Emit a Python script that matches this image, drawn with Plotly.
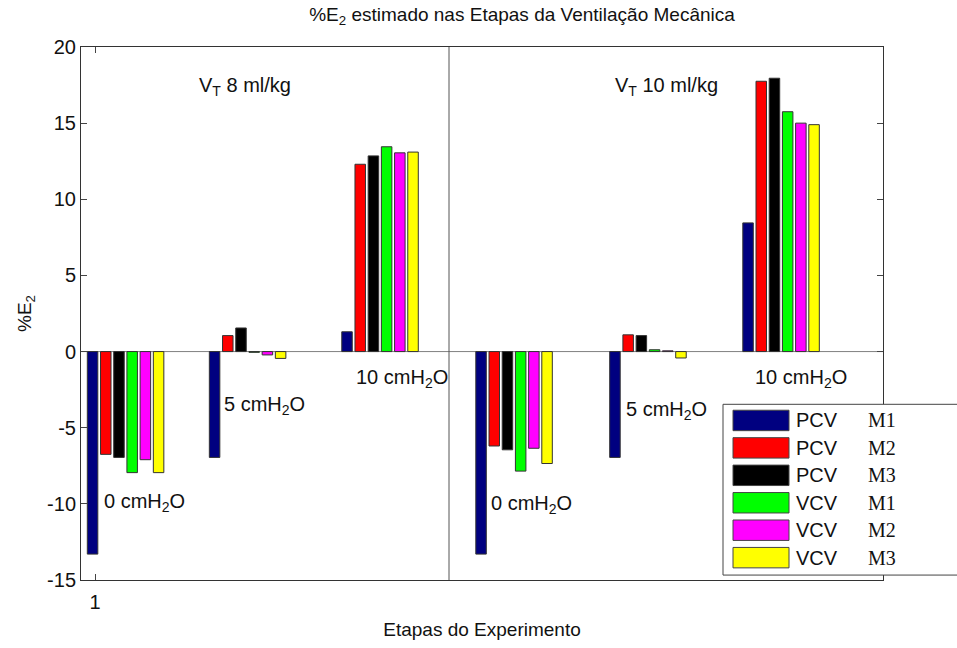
import plotly.graph_objects as go

# ---------------- data ----------------
stages = ["0 cmH<sub>2</sub>O", "5 cmH<sub>2</sub>O", "10 cmH<sub>2</sub>O",
          "0 cmH<sub>2</sub>O", "5 cmH<sub>2</sub>O", "10 cmH<sub>2</sub>O"]
series_modes = ["PCV", "PCV", "PCV", "VCV", "VCV", "VCV"]
series_methods = ["M1", "M2", "M3", "M1", "M2", "M3"]

pcv_m1 = [-13.3, -6.95, 1.3, -13.3, -6.95, 8.45]
pcv_m2 = [-6.75, 1.05, 12.3, -6.2, 1.1, 17.75]
pcv_m3 = [-6.95, 1.55, 12.85, -6.45, 1.05, 17.95]
vcv_m1 = [-7.95, -0.05, 13.45, -7.85, 0.12, 15.75]
vcv_m2 = [-7.1, -0.22, 13.05, -6.35, 0.05, 15.0]
vcv_m3 = [-7.95, -0.45, 13.1, -7.35, -0.42, 14.9]
series_values = [pcv_m1, pcv_m2, pcv_m3, vcv_m1, vcv_m2, vcv_m3]

vt_labels = ["V<sub>T</sub> 8 ml/kg", "V<sub>T</sub> 10 ml/kg"]
x_ticks = [1]
x_ticklabels = ["1"]
y_ticks = [-15, -10, -5, 0, 5, 10, 15, 20]
y_ticklabels = ["-15", "-10", "-5", "0", "5", "10", "15", "20"]

# ---------------- layout / style ----------------
colors = ["#000080", "#FF0000", "#000000", "#00FF00", "#FF00FF", "#FFFF00"]
group_centers = [1.229, 2.143, 3.135, 4.139, 5.142, 6.139]
bar_pitch = 0.0989
bar_width = 0.0787
divider_x = 3.6517
stage_label_pos = [(1.050, -9.9), (1.949, -3.55), (2.940, -1.75),
                   (3.954, -10.05), (4.963, -3.9), (5.929, -1.75)]
vt_label_pos = [(1.762, 17.43), (4.877, 17.43)]

SANS = "Liberation Sans, Arial, sans-serif"
SERIF = "Liberation Serif, Times New Roman, serif"
TXT = "#111111"

fig = go.Figure()
for k, vals in enumerate(series_values):
    off = (k - 2.5) * bar_pitch
    fig.add_trace(go.Bar(
        x=[c + off for c in group_centers], y=vals, width=bar_width,
        marker=dict(color=colors[k], line=dict(color="#333333", width=1)),
        name=f"{series_modes[k]} {series_methods[k]}", showlegend=False,
    ))

annotations = []
for (ax, ay), txt in zip(stage_label_pos, stages):
    annotations.append(dict(x=ax, y=ay, xref="x", yref="y", text=txt,
                            showarrow=False, xanchor="left", yanchor="middle",
                            font=dict(family=SANS, size=20, color=TXT)))
for (ax, ay), txt in zip(vt_label_pos, vt_labels):
    annotations.append(dict(x=ax, y=ay, xref="x", yref="y", text=txt,
                            showarrow=False, xanchor="left", yanchor="middle",
                            font=dict(family=SANS, size=20, color=TXT)))

shapes = [
    dict(type="line", xref="paper", yref="y", x0=0, x1=1, y0=0, y1=0,
         line=dict(color="#808080", width=1), layer="below"),
    dict(type="line", xref="x", yref="paper", x0=divider_x, x1=divider_x, y0=0, y1=1,
         line=dict(color="#555555", width=1)),
]

# manual legend (paper coordinates, plot area 81..883 x 47..587 px)
PL, PW, PT, PH = 81, 802, 47, 540
def px(p):
    return (p - PL) / PW
def py(p):
    return (PT + PH - p) / PH

shapes.append(dict(type="rect", xref="paper", yref="paper",
                   x0=px(723), x1=px(962), y0=py(582), y1=py(409),
                   fillcolor="white", line=dict(color="#444444", width=1), layer="above"))
for i in range(6):
    top = 415 + 27.8 * i
    shapes.append(dict(type="rect", xref="paper", yref="paper",
                       x0=px(733), x1=px(789), y0=py(top + 20.7), y1=py(top),
                       fillcolor=colors[i], line=dict(color="#444444", width=1), layer="above"))
    yc = py(top + 10.3)
    annotations.append(dict(x=px(794), y=yc, xref="paper", yref="paper",
                            text=series_modes[i], showarrow=False, xanchor="left",
                            yanchor="middle", font=dict(family=SANS, size=20, color=TXT)))
    annotations.append(dict(x=px(866), y=yc, xref="paper", yref="paper",
                            text=series_methods[i], showarrow=False, xanchor="left",
                            yanchor="middle", font=dict(family=SERIF, size=20, color=TXT)))

fig.update_layout(
    width=957, height=648,
    margin=dict(l=81, r=957 - 883, t=47, b=648 - 587, pad=0),
    paper_bgcolor="white", plot_bgcolor="white",
    barmode="overlay",
    title=dict(text="%E<sub>2</sub> estimado nas Etapas da Ventilação Mecânica",
               x=(81 + 441) / 957, xanchor="center", y=1 - 14 / 648, yanchor="middle",
               font=dict(family=SANS, size=19, color=TXT)),
    annotations=annotations, shapes=shapes,
    xaxis=dict(range=[0.8951, 6.9026], tickvals=x_ticks, ticktext=x_ticklabels,
               ticks="inside", ticklen=6, tickcolor="#444444",
               showline=True, linecolor="#333333", linewidth=1, mirror="ticks",
               showgrid=False, zeroline=False, ticklabelstandoff=4,
               tickfont=dict(family=SANS, size=20, color=TXT),
               title=dict(text="Etapas do Experimento", standoff=10,
                          font=dict(family=SANS, size=19, color=TXT))),
    yaxis=dict(range=[-15, 20], tickvals=y_ticks, ticktext=y_ticklabels,
               ticks="inside", ticklen=6, tickcolor="#444444",
               showline=True, linecolor="#333333", linewidth=1, mirror="ticks",
               showgrid=False, zeroline=False,
               tickfont=dict(family=SANS, size=20, color=TXT),
               title=dict(text="%E<sub>2</sub>", standoff=10,
                          font=dict(family=SANS, size=19, color=TXT))),
)

fig.write_html("out.html")
